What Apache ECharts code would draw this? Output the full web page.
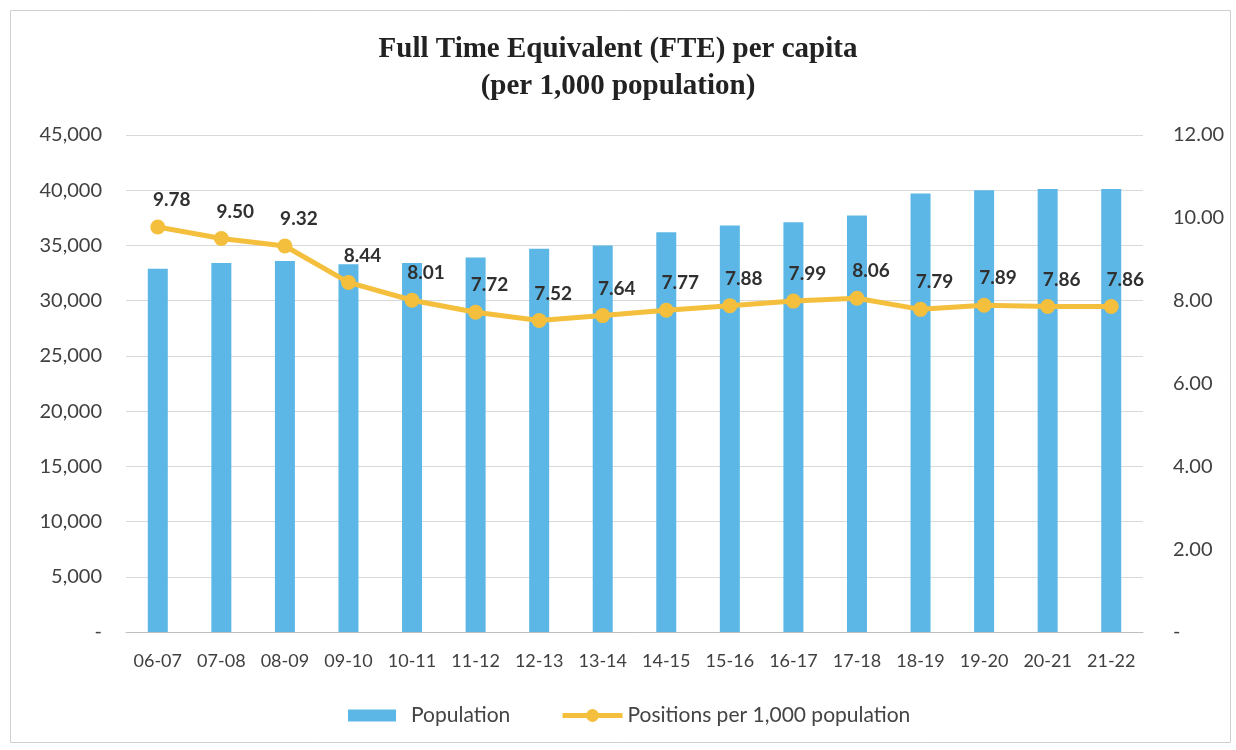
<!DOCTYPE html>
<html>
<head>
<meta charset="utf-8">
<script src="https://cdn.jsdelivr.net/npm/echarts@6/dist/echarts.min.js"></script>
<style>
html,body{margin:0;padding:0;background:#fff;}
#c{width:1236px;height:750px;}
</style>
</head>
<body>
<div id="c"></div>
<script>
var categories = ['06-07','07-08','08-09','09-10','10-11','11-12','12-13','13-14','14-15','15-16','16-17','17-18','18-19','19-20','20-21','21-22'];
var population = [32900, 33400, 33600, 33300, 33400, 33900, 34700, 35000, 36200, 36800, 37100, 37700, 39700, 40000, 40100, 40100];
var positionsPer1000 = [9.78, 9.50, 9.32, 8.44, 8.01, 7.72, 7.52, 7.64, 7.77, 7.88, 7.99, 8.06, 7.79, 7.89, 7.86, 7.86];
var titleLines = ['Full Time Equivalent (FTE) per capita', '(per 1,000 population)'];
var seriesNames = ['Population', 'Positions per 1,000 population'];

var chart = echarts.init(document.getElementById('c'), null, {renderer:'canvas'});
var font = 'Lato, "Open Sans", sans-serif';
var barColor = '#5db7e6';
var lineColor = '#f5bf3e';
chart.setOption({
  backgroundColor: '#ffffff',
  animation: false,
  graphic: [{
    type: 'rect', left: 8, top: 8, shape: {width: 1220, height: 732},
    style: {fill: 'none', stroke: '#d0d0d0', lineWidth: 1}, silent: true, z: -1
  }],
  title: {
    text: titleLines.join('\n'),
    left: 'center', top: 26,
    textStyle: {fontFamily: '"Liberation Serif", "Times New Roman", serif', fontWeight: 'bold', fontSize: 29, color: '#222', lineHeight: 37}
  },
  legend: [{
    left: 343, top: 700, itemWidth: 48, itemHeight: 12,
    textStyle: {fontFamily: font, fontSize: 21, color: '#444', padding: [0, 0, 0, 10]},
    data: [{name: seriesNames[0], icon: 'rect'}]
  }, {
    left: 555, top: 700, itemWidth: 60, itemHeight: 16,
    textStyle: {fontFamily: font, fontSize: 21, color: '#444'},
    data: [{name: seriesNames[1], lineStyle: {width: 5, color: lineColor}}]
  }],
  grid: {left: 126, right: 93, top: 135, bottom: 118},
  xAxis: {
    type: 'category', data: categories,
    axisLine: {lineStyle: {color: '#bfbfbf'}},
    axisTick: {show: false},
    axisLabel: {interval: 0, fontFamily: font, fontSize: 18, color: '#404040', margin: 20}
  },
  yAxis: [{
    type: 'value', min: 0, max: 45000, interval: 5000,
    axisLine: {show: false}, axisTick: {show: false},
    splitLine: {lineStyle: {color: '#d9d9d9'}},
    axisLabel: {fontFamily: font, fontSize: 20, color: '#404040', margin: 24,
      formatter: function(v){ return v === 0 ? '-' : v.toLocaleString('en-US'); }}
  }, {
    type: 'value', min: 0, max: 12, interval: 2,
    axisLine: {show: false}, axisTick: {show: false},
    splitLine: {show: false},
    axisLabel: {fontFamily: font, fontSize: 20, color: '#404040', margin: 30,
      formatter: function(v){ return v === 0 ? '-' : v.toFixed(2); }}
  }],
  series: [{
    name: seriesNames[0], type: 'bar', data: population, barWidth: 20,
    itemStyle: {color: barColor}
  }, {
    name: seriesNames[1], type: 'line', yAxisIndex: 1,
    data: positionsPer1000,
    symbol: 'circle', symbolSize: 15,
    lineStyle: {color: lineColor, width: 5},
    itemStyle: {color: lineColor},
    label: {show: true, position: 'top', distance: 10, offset: [14, 0],
      fontFamily: font, fontSize: 19, color: '#303030', fontWeight: 'bold',
      formatter: function(p){ return p.value.toFixed(2); }}
  }]
});
</script>
</body>
</html>
